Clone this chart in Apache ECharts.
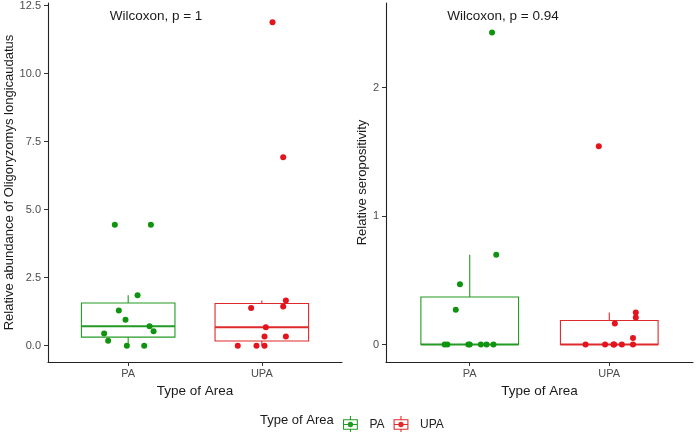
<!DOCTYPE html>
<html>
<head>
<meta charset="utf-8">
<script src="https://cdn.jsdelivr.net/npm/echarts@6/dist/echarts.min.js"></script>
<style>
  html, body { margin: 0; padding: 0; background: #fff; }
  #main { width: 700px; height: 432px; }
</style>
</head>
<body>
<div id="main"></div>
<script>
// groups on the x axis
const cats = ['PA', 'UPA']

// left panel: relative abundance of Oligoryzomys longicaudatus
const abundPA = [4.45, 4.45, 1.85, 1.29, 0.95, 0.71, 0.53, 0.45, 0.18, 0, 0]
const abundPAJit = [-0.10, 0.17, 0.07, -0.07, -0.02, 0.16, 0.19, -0.18, -0.15, -0.01, 0.12]
const abundUPA = [11.89, 6.93, 1.66, 1.44, 1.39, 0.68, 0.34, 0.34, 0, 0, 0]
const abundUPAJit = [0.08, 0.16, 0.18, 0.16, -0.08, 0.03, 0.02, 0.18, -0.18, -0.04, 0.02]
const abundTicks = [0, 2.5, 5, 7.5, 10, 12.5]

// right panel: relative seropositivity
const seroPA = [2.43, 0.70, 0.47, 0.27, 0, 0, 0, 0, 0, 0, 0]
const seroPAJit = [0.16, 0.19, -0.07, -0.10, -0.18, -0.16, -0.01, 0.08, 0.12, 0.17, 0.0]
const seroUPA = [1.545, 0.25, 0.21, 0.164, 0.05, 0, 0, 0, 0, 0, 0]
const seroUPAJit = [-0.075, 0.19, 0.19, 0.04, 0.17, -0.17, -0.03, 0.03, 0.035, 0.09, 0.17]
const seroTicks = [0, 1, 2]

const greenPt = '#109410'
const greenBox = '#239a23'
const redPt = '#e3141e'
const redBox = '#de2a2a'
const font = '"Liberation Sans", Arial, sans-serif'

// quantile type 7 (same as R default)
function quantile (sorted, p) {
  const h = (sorted.length - 1) * p
  const lo = Math.floor(h)
  const hi = Math.min(lo + 1, sorted.length - 1)
  return sorted[lo] + (h - lo) * (sorted[hi] - sorted[lo])
}

// [group, lowWhisker, q1, median, q3, highWhisker]
function boxStats (group, vals) {
  const s = vals.slice().sort((a, b) => a - b)
  const q1 = quantile(s, 0.25)
  const med = quantile(s, 0.5)
  const q3 = quantile(s, 0.75)
  const iqr = q3 - q1
  const inside = s.filter(v => v >= q1 - 1.5 * iqr && v <= q3 + 1.5 * iqr)
  return [group, inside[0], q1, med, q3, inside[inside.length - 1]]
}

function jitterData (group, vals, jit) {
  return vals.map((v, i) => [group + jit[i], v])
}

function renderBox (params, api) {
  const x = api.value(0)
  const half = api.size([0.35, 0])[0]
  const color = api.visual('color')
  const pLow = api.coord([x, api.value(1)])
  const pQ1 = api.coord([x, api.value(2)])
  const pMed = api.coord([x, api.value(3)])
  const pQ3 = api.coord([x, api.value(4)])
  const pHigh = api.coord([x, api.value(5)])
  const lineStyle = { stroke: color, lineWidth: 1.1, fill: null }
  return {
    type: 'group',
    children: [
      { type: 'line', shape: { x1: pLow[0], y1: pLow[1], x2: pQ1[0], y2: pQ1[1] }, style: lineStyle },
      { type: 'line', shape: { x1: pQ3[0], y1: pQ3[1], x2: pHigh[0], y2: pHigh[1] }, style: lineStyle },
      {
        type: 'rect',
        shape: { x: pQ3[0] - half, y: pQ3[1], width: half * 2, height: pQ1[1] - pQ3[1] },
        style: lineStyle
      },
      {
        type: 'line',
        shape: { x1: pMed[0] - half, y1: pMed[1], x2: pMed[0] + half, y2: pMed[1] },
        style: { stroke: color, lineWidth: 2, fill: null }
      }
    ]
  }
}

function xAxisFor (gridIndex) {
  return {
    type: 'value',
    gridIndex,
    min: 0.4,
    max: 2.6,
    name: 'Type of Area',
    nameLocation: 'middle',
    nameGap: 20,
    nameTextStyle: { fontSize: 13.5, color: '#1a1a1a', fontFamily: font },
    splitLine: { show: false },
    axisLine: { onZero: false, lineStyle: { color: '#222', width: 1.1 } },
    axisTick: { length: 4, lineStyle: { color: '#333' }, customValues: [1, 2] },
    axisLabel: {
      customValues: [1, 2],
      formatter: v => cats[Math.round(v) - 1],
      color: '#4d4d4d',
      fontSize: 11,
      margin: 6,
      fontFamily: font
    }
  }
}

function yAxisFor (gridIndex, min, max, ticks, name, gap, fmt) {
  return {
    type: 'value',
    gridIndex,
    min,
    max,
    name,
    nameLocation: 'middle',
    nameGap: gap,
    nameTextStyle: { fontSize: 13, color: '#1a1a1a', fontFamily: font },
    splitLine: { show: false },
    axisLine: { show: true, onZero: false, lineStyle: { color: '#222', width: 1.1 } },
    axisTick: { show: true, length: 4, lineStyle: { color: '#333' }, customValues: ticks },
    axisLabel: {
      customValues: ticks,
      formatter: fmt,
      color: '#4d4d4d',
      fontSize: 11,
      margin: 7,
      fontFamily: font
    }
  }
}

// legend key: outlined box with whiskers, median line and a dot
const keyIcon = 'path://M1 3H15V13H1Z M2 4V12H14V4Z M2 7.5H14V8.5H2Z M7.5 0H8.5V3H7.5Z M7.5 13H8.5V16H7.5Z M5.5 8A2.5 2.5 0 1 1 10.5 8A2.5 2.5 0 1 1 5.5 8Z'

const myChart = echarts.init(document.getElementById('main'), null, { renderer: 'canvas' })
myChart.setOption({
  backgroundColor: '#fff',
  animation: false,
  textStyle: { fontFamily: font },
  grid: [
    { left: 48, top: 3, width: 294, height: 359 },
    { left: 386, top: 3, width: 307, height: 359 }
  ],
  xAxis: [xAxisFor(0), xAxisFor(1)],
  yAxis: [
    yAxisFor(0, -0.6, 12.6, abundTicks, 'Relative abundance of Oligoryzomys longicaudatus', 28, v => v.toFixed(1)),
    yAxisFor(1, -0.136, 2.66, seroTicks, 'Relative seropositivity', 17, v => String(v))
  ],
  legend: {
    left: 338,
    top: 411,
    itemWidth: 16,
    itemHeight: 17,
    itemGap: 9,
    icon: keyIcon,
    itemStyle: { borderWidth: 0, opacity: 1 },
    textStyle: { fontSize: 12, color: '#222', fontFamily: font, padding: [0, 0, 0, 6] },
    data: [
      { name: 'PA', itemStyle: { color: greenBox } },
      { name: 'UPA', itemStyle: { color: redBox } }
    ]
  },
  graphic: [
    {
      type: 'text', x: 156, y: 16,
      style: { text: 'Wilcoxon, p = 1', font: '13.5px ' + font, fill: '#1a1a1a', align: 'center', verticalAlign: 'middle' }
    },
    {
      type: 'text', x: 503, y: 16,
      style: { text: 'Wilcoxon, p = 0.94', font: '13.5px ' + font, fill: '#1a1a1a', align: 'center', verticalAlign: 'middle' }
    },
    {
      type: 'text', x: 260, y: 420,
      style: { text: 'Type of Area', font: '13px ' + font, fill: '#1a1a1a', align: 'left', verticalAlign: 'middle' }
    }
  ],
  series: [
    { name: 'PA', type: 'scatter', xAxisIndex: 0, yAxisIndex: 0, symbolSize: 6, z: 3, itemStyle: { color: greenPt, opacity: 1 }, data: jitterData(1, abundPA, abundPAJit) },
    { name: 'UPA', type: 'scatter', xAxisIndex: 0, yAxisIndex: 0, symbolSize: 6, z: 3, itemStyle: { color: redPt, opacity: 1 }, data: jitterData(2, abundUPA, abundUPAJit) },
    { name: 'PA', type: 'scatter', xAxisIndex: 1, yAxisIndex: 1, symbolSize: 6, z: 3, itemStyle: { color: greenPt, opacity: 1 }, data: jitterData(1, seroPA, seroPAJit) },
    { name: 'UPA', type: 'scatter', xAxisIndex: 1, yAxisIndex: 1, symbolSize: 6, z: 3, itemStyle: { color: redPt, opacity: 1 }, data: jitterData(2, seroUPA, seroUPAJit) },
    { name: 'PA', type: 'custom', xAxisIndex: 0, yAxisIndex: 0, z: 2, itemStyle: { color: greenBox }, renderItem: renderBox, encode: { x: 0, y: [1, 2, 3, 4, 5] }, data: [boxStats(1, abundPA)] },
    { name: 'UPA', type: 'custom', xAxisIndex: 0, yAxisIndex: 0, z: 2, itemStyle: { color: redBox }, renderItem: renderBox, encode: { x: 0, y: [1, 2, 3, 4, 5] }, data: [boxStats(2, abundUPA)] },
    { name: 'PA', type: 'custom', xAxisIndex: 1, yAxisIndex: 1, z: 2, itemStyle: { color: greenBox }, renderItem: renderBox, encode: { x: 0, y: [1, 2, 3, 4, 5] }, data: [boxStats(1, seroPA)] },
    { name: 'UPA', type: 'custom', xAxisIndex: 1, yAxisIndex: 1, z: 2, itemStyle: { color: redBox }, renderItem: renderBox, encode: { x: 0, y: [1, 2, 3, 4, 5] }, data: [boxStats(2, seroUPA)] }
  ]
})
</script>
</body>
</html>
